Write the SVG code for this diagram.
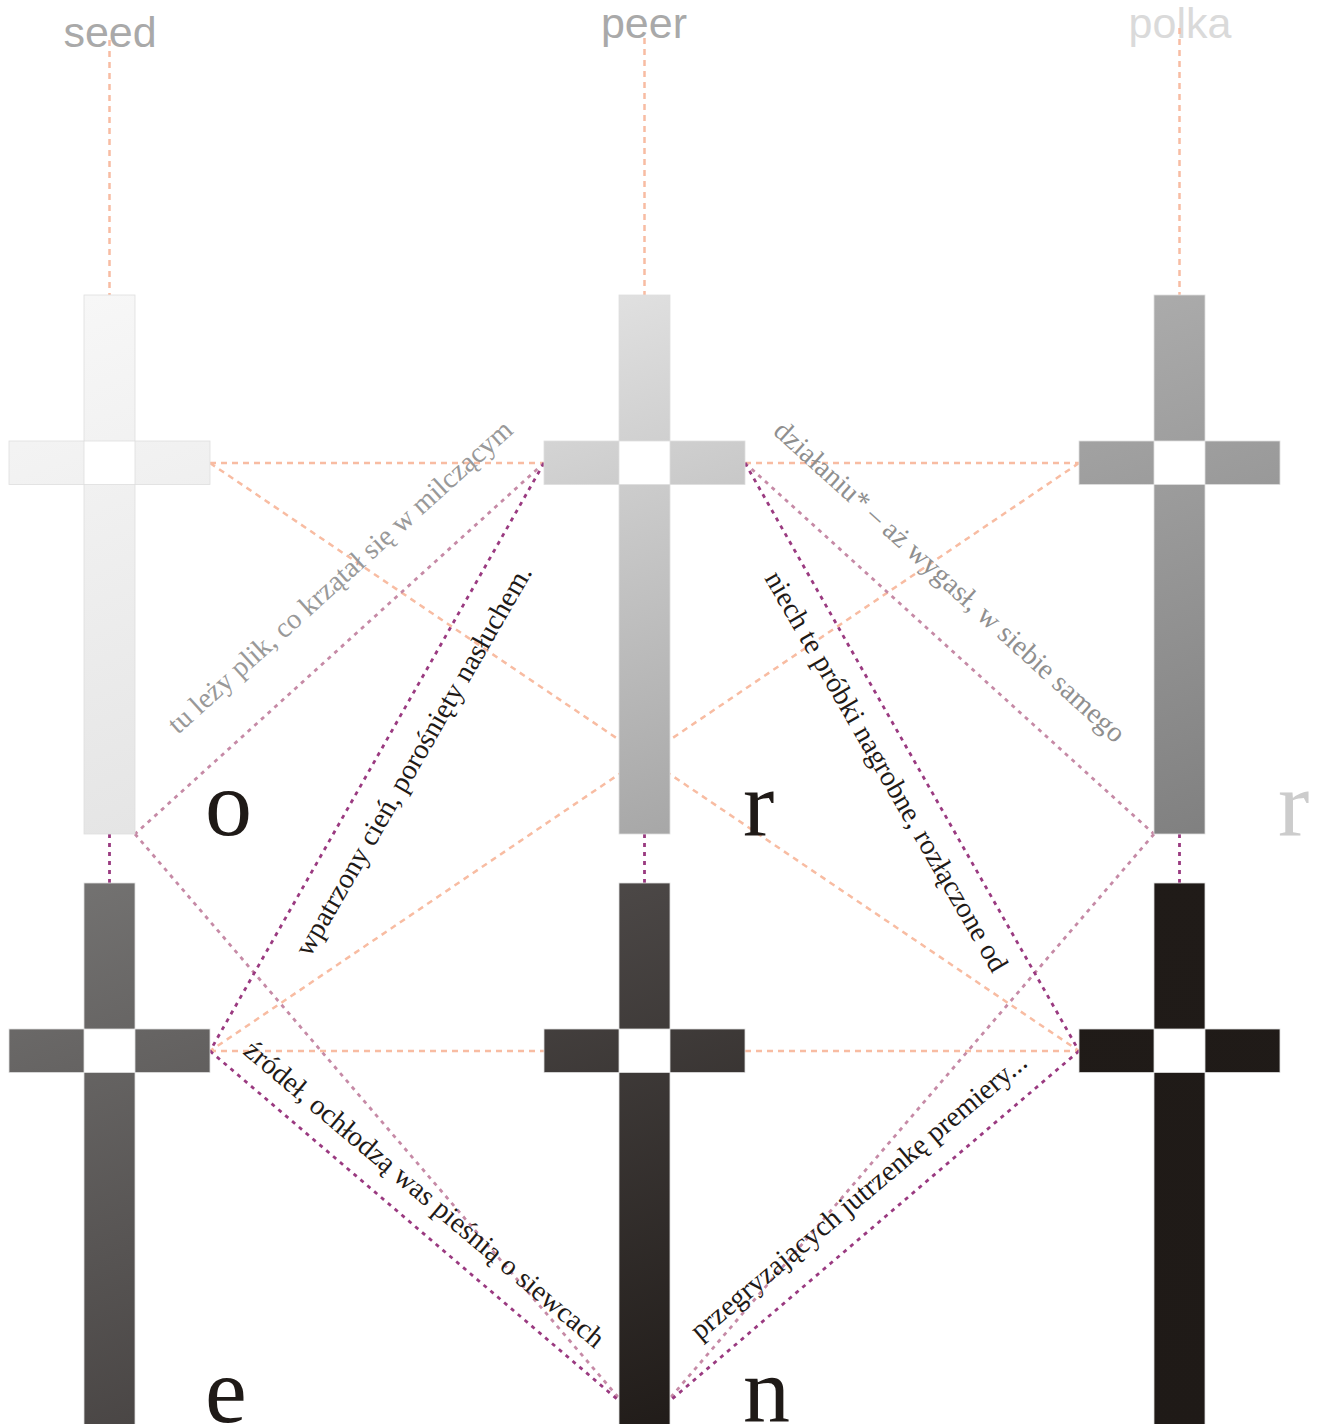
<svg xmlns="http://www.w3.org/2000/svg" width="1319" height="1424" viewBox="0 0 1319 1424">
<defs>
<linearGradient id="g1" gradientUnits="userSpaceOnUse" x1="9" y1="295" x2="210" y2="834"><stop offset="0" stop-color="#f8f8f8"/><stop offset="1" stop-color="#e4e4e4"/></linearGradient>
<linearGradient id="g2" gradientUnits="userSpaceOnUse" x1="544" y1="295" x2="745" y2="834"><stop offset="0" stop-color="#e3e3e3"/><stop offset="1" stop-color="#a4a4a4"/></linearGradient>
<linearGradient id="g3" gradientUnits="userSpaceOnUse" x1="1079" y1="295" x2="1280" y2="834"><stop offset="0" stop-color="#adadad"/><stop offset="1" stop-color="#7e7e7e"/></linearGradient>
<linearGradient id="g4" gradientUnits="userSpaceOnUse" x1="9" y1="883" x2="210" y2="1422"><stop offset="0" stop-color="#757473"/><stop offset="1" stop-color="#484443"/></linearGradient>
<linearGradient id="g5" gradientUnits="userSpaceOnUse" x1="544" y1="883" x2="745" y2="1422"><stop offset="0" stop-color="#4e4a49"/><stop offset="1" stop-color="#1f1a17"/></linearGradient>
<linearGradient id="g6" gradientUnits="userSpaceOnUse" x1="1079" y1="883" x2="1280" y2="1422"><stop offset="0" stop-color="#201b18"/><stop offset="1" stop-color="#1f1a17"/></linearGradient>
</defs>
<style>
.lbl{font-family:"Liberation Sans",Arial,sans-serif;font-size:43px;text-anchor:middle}
.arm{stroke:#dedede;stroke-width:0.8}
.sal{stroke:#f8bca2;stroke-width:2.5;stroke-dasharray:6 5;fill:none}
.mau{stroke:#c68aa6;stroke-width:2.8;stroke-dasharray:4 5;fill:none}
.pur{stroke:#9a3a80;stroke-width:2.8;stroke-dasharray:4 5;fill:none}
.vt{font-family:"Liberation Serif","Times New Roman",serif;font-size:28.5px}
.big{font-family:"Liberation Serif","Times New Roman",serif;font-size:94px}
</style>
<rect width="1319" height="1424" fill="#ffffff"/>
<g id="labels">
<text class="lbl" x="110" y="47" fill="#a9a9a9">seed</text>
<text class="lbl" x="644" y="38" fill="#a9a9a9">peer</text>
<text class="lbl" x="1180" y="38" fill="#dadada">polka</text>
</g>
<g id="connectors">
<line class="sal" x1="109.5" y1="40" x2="109.5" y2="295"/>
<line class="sal" x1="644.5" y1="38" x2="644.5" y2="295"/>
<line class="sal" x1="1179.5" y1="28" x2="1179.5" y2="295"/>
<line class="sal" x1="210" y1="463" x2="544" y2="463"/>
<line class="sal" x1="745" y1="463" x2="1079" y2="463"/>
<line class="sal" x1="210" y1="1051" x2="544" y2="1051"/>
<line class="sal" x1="745" y1="1051" x2="1079" y2="1051"/>
<line class="sal" x1="210" y1="463" x2="1079" y2="1051"/>
<line class="sal" x1="1079" y1="463" x2="210" y2="1051"/>
<line class="mau" x1="544" y1="463" x2="135" y2="834"/>
<line class="mau" x1="135" y1="834" x2="618" y2="1397"/>
<line class="mau" x1="745" y1="463" x2="1154" y2="834"/>
<line class="mau" x1="1154" y1="834" x2="671" y2="1397"/>
<line class="pur" x1="544" y1="463" x2="210" y2="1051"/>
<line class="pur" x1="210" y1="1051" x2="617" y2="1399"/>
<line class="pur" x1="745" y1="463" x2="1079" y2="1051"/>
<line class="pur" x1="1079" y1="1051" x2="672" y2="1399"/>
<line class="pur" x1="109.5" y1="834" x2="109.5" y2="883"/>
<line class="pur" x1="644.5" y1="834" x2="644.5" y2="883"/>
<line class="pur" x1="1179.5" y1="834" x2="1179.5" y2="883"/>
</g>
<g id="seed-top" fill="url(#g1)" class="arm">
<rect x="84" y="295" width="51" height="146"/><rect x="9" y="441" width="75" height="43.5"/><rect x="135" y="441" width="75" height="43.5"/><rect x="84" y="484.5" width="51" height="349.5"/>
</g>
<g id="peer-top" fill="url(#g2)" class="arm">
<rect x="619" y="295" width="51" height="146"/><rect x="544" y="441" width="75" height="43.5"/><rect x="670" y="441" width="75" height="43.5"/><rect x="619" y="484.5" width="51" height="349.5"/>
</g>
<g id="polka-top" fill="url(#g3)" class="arm">
<rect x="1154" y="295" width="51" height="146"/><rect x="1079" y="441" width="75" height="43.5"/><rect x="1205" y="441" width="75" height="43.5"/><rect x="1154" y="484.5" width="51" height="349.5"/>
</g>
<g id="seed-bottom" fill="url(#g4)" class="arm">
<rect x="84" y="883" width="51" height="146"/><rect x="9" y="1029" width="75" height="43.5"/><rect x="135" y="1029" width="75" height="43.5"/><rect x="84" y="1072.5" width="51" height="352"/>
</g>
<g id="peer-bottom" fill="url(#g5)" class="arm">
<rect x="619" y="883" width="51" height="146"/><rect x="544" y="1029" width="75" height="43.5"/><rect x="670" y="1029" width="75" height="43.5"/><rect x="619" y="1072.5" width="51" height="352"/>
</g>
<g id="polka-bottom" fill="url(#g6)" class="arm">
<rect x="1154" y="883" width="51" height="146"/><rect x="1079" y="1029" width="75" height="43.5"/><rect x="1205" y="1029" width="75" height="43.5"/><rect x="1154" y="1072.5" width="51" height="352"/>
</g>
<g id="verses">
<text class="vt" fill="#999999" transform="translate(178,735) rotate(-42)">tu leży plik, co krzątał się w milczącym</text>
<text class="vt" fill="#1f1a17" transform="translate(310,958) rotate(-60)">wpatrzony cień, porośnięty nasłuchem.</text>
<text class="vt" fill="#8f8f8f" transform="translate(772,433) rotate(42.2)">działaniu* – aż wygasł, w siebie samego</text>
<text class="vt" fill="#1f1a17" transform="translate(764,578) rotate(60)">niech te próbki nagrobne, rozłączone od</text>
<text class="vt" fill="#1f1a17" transform="translate(242,1053) rotate(40)">źródeł, ochłodzą was pieśnią o siewcach</text>
<text class="vt" fill="#1f1a17" transform="translate(700,1341) rotate(-40)">przegryzających jutrzenkę premiery...</text>
</g>
<g id="letters">
<text class="big" x="205" y="835" fill="#1f1a17">o</text>
<text class="big" x="743" y="835" fill="#1f1a17">r</text>
<text class="big" x="1278" y="835" fill="#cccccc">r</text>
<text class="big" x="205" y="1422" fill="#1f1a17">e</text>
<text class="big" x="743" y="1422" fill="#1f1a17">n</text>
</g>
</svg>
